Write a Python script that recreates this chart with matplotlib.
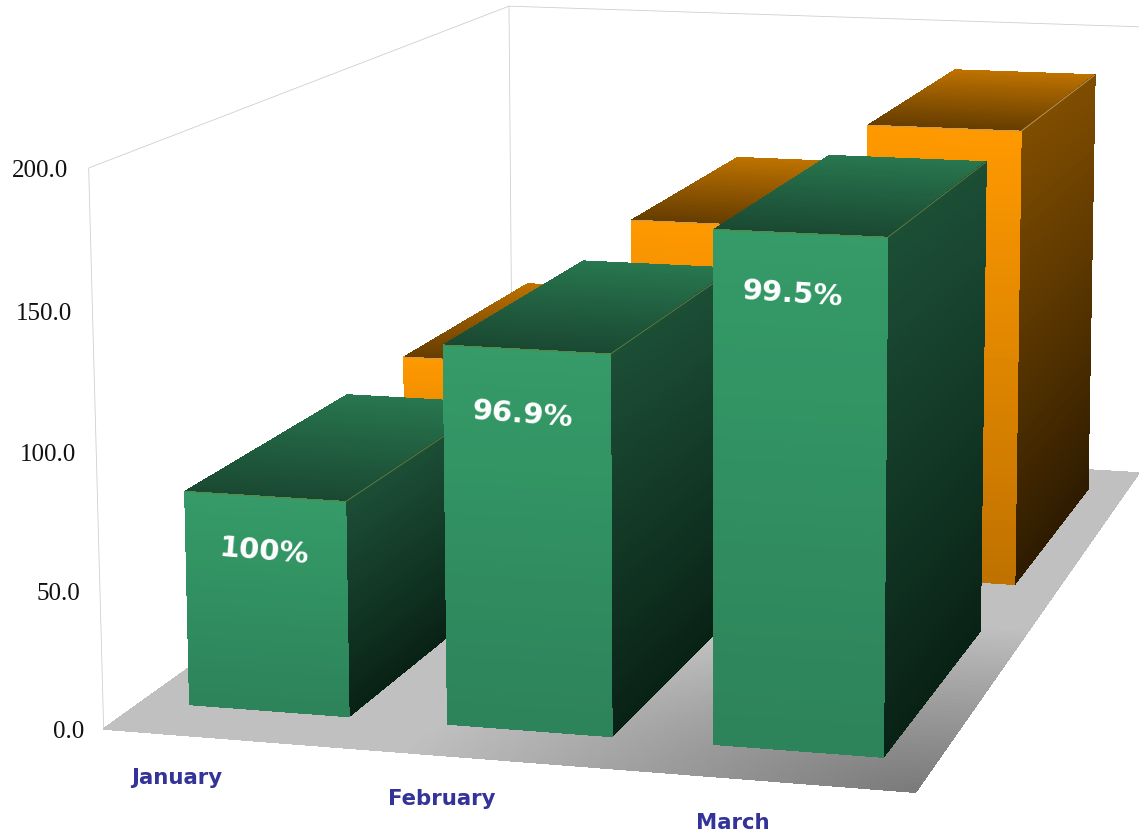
#!/usr/bin/env python3

import numpy as np
from matplotlib import pyplot as plt
from matplotlib.colors import to_rgb
from mpl_toolkits.mplot3d import proj3d
from mpl_toolkits.mplot3d.art3d import Poly3DCollection

months = ["January", "February", "March"]
green_values = [78.5, 136.7, 181.9]
orange_values = [79.2, 140.6, 183.0]
percent_labels = ["100%", "96.9%", "99.5%"]
value_ticks = [0, 50, 100, 150, 200]

W, H = 1139, 834
DEPTH_HALF = 0.35
BACK_SKEW = 0.011  # the back of the bars sits a little further right than the camera says

# (top, bottom) colours of the faces, top face is (back, front)
GREEN = dict(front=("#359B68", "#2D835A"), side=("#1C4E36", "#092216"),
             top=("#28774F", "#1A4932"), edge="#66803F", shift=-0.005, half=0.31)
ORANGE = dict(front=("#FF9900", "#BF7200"), side=("#804D00", "#2E1C00"),
              top=("#BF7300", "#663D00"), edge="#C49A62", shift=0.0, half=0.315)

# camera fitted to the walls and floor of the picture: x 0-1, y 0-1, z 0-1
cam = np.array([[768.44, 569.38, -17.2, 103.66],
                [25.65, -155.94, -565.1, 728.97],
                [-0.04734, 0.31309, -0.02457, 1.0]])
cam = cam @ np.diag([1 / 3, 1 / 2, 1 / 200, 1])  # to months, series, values
M = np.array([cam[0], H * cam[2] - cam[1], [0, 1, 0, 0], cam[2]])

fig = plt.figure(figsize=(W / 100, H / 100), dpi=100)
ax = fig.add_axes([0, 0, 1, 1], projection="3d", computed_zorder=False)
ax.get_proj = lambda: M
ax.apply_aspect = lambda position=None: None
ax.set_xticks([])
ax.set_yticks([])
ax.set_zticks([])
ax.set_axis_off()
ax.viewLim.intervalx = (0, W)
ax.viewLim.intervaly = (0, H)

order = [1]


def next_z():
    order[0] += 1
    return order[0]


def blend(a, b, t):
    a, b = np.array(to_rgb(a)), np.array(to_rgb(b))
    return tuple(a + (b - a) * t)


def add_polys(polys, colors):
    # no antialiasing here, or the seams between the bands show
    col = Poly3DCollection(polys, facecolors=colors, edgecolors=colors,
                           linewidths=0.5, antialiased=False, zorder=next_z())
    ax.add_collection3d(col, autolim=False)


def add_lines(segments, colors, lw=0.8, alpha=None):
    col = Poly3DCollection(segments, facecolors=colors, edgecolors=colors,
                           linewidths=lw, alpha=alpha, zorder=next_z())
    ax.add_collection3d(col, autolim=False)


def gradient_face(c00, c10, c01, c11, col0, col1, n=50):
    # bands going from the edge c00-c10 (col0) to the edge c01-c11 (col1)
    c00, c10, c01, c11 = map(np.array, (c00, c10, c01, c11))
    polys, colors, segs, seg_colors = [], [], [], []
    for i in range(n):
        t0, t1 = i / n, (i + 1) / n
        a0, a1 = c00 + (c01 - c00) * t0, c00 + (c01 - c00) * t1
        b0, b1 = c10 + (c11 - c10) * t0, c10 + (c11 - c10) * t1
        color = blend(col0, col1, (t0 + t1) / 2)
        polys.append([a0, b0, b1, a1])
        colors.append(color)
        segs += [[a0, a1], [b0, b1]]
        seg_colors += [color, color]
    segs += [[c00, c10], [c01, c11]]
    seg_colors += [to_rgb(col0), to_rgb(col1)]
    add_polys(polys, colors)
    add_lines(segs, seg_colors, lw=0.6)


def draw_bar(cat, series, value, style):
    mid = cat + 0.5 + style["shift"]
    x0, x1 = mid - style["half"], mid + style["half"]
    bx0, bx1 = x0 + BACK_SKEW, x1 + BACK_SKEW
    y0, y1 = series + 0.5 - DEPTH_HALF, series + 0.5 + DEPTH_HALF
    gradient_face((bx0, y1, value), (bx1, y1, value), (x0, y0, value), (x1, y0, value),
                  *style["top"])
    gradient_face((x1, y0, value), (bx1, y1, value), (x1, y0, 0), (bx1, y1, 0),
                  *style["side"])
    gradient_face((x0, y0, value), (x1, y0, value), (x0, y0, 0), (x1, y0, 0),
                  *style["front"])
    edges = [[(x0, y0, value), (x1, y0, value)],
             [(x1, y0, value), (bx1, y1, value)]]
    add_lines(edges, [style["edge"]] * 2, lw=0.6, alpha=0.6)


def label_at(x, y, z, s, along_x=False, **kwargs):
    # place a label through the same camera, flat or following the month axis
    px, py, _ = proj3d.proj_transform(x, y, z, M)
    rotation = 0
    if along_x:
        qx, qy, _ = proj3d.proj_transform(x + 0.1, y, z, M)
        rotation = np.degrees(np.arctan2(qy - py, qx - px)) - 1
    ax.text2D(px, py, s, rotation=rotation, ha="center", va="center",
              zorder=next_z(), **kwargs)


# floor, darker towards the front right corner
nx, ny = 150, 100
polys, colors, segs, seg_colors = [], [], [], []
for i in range(nx):
    for j in range(ny):
        xa, xb = 3 * i / nx, 3 * (i + 1) / nx
        ya, yb = 2 * j / ny, 2 * (j + 1) / ny
        polys.append([(xa, ya, 0), (xb, ya, 0), (xb, yb, 0), (xa, yb, 0)])
        d = np.hypot(1 - (xa + xb) / 6, (ya + yb) / 4 / 0.7)
        g = (122 + 70 * min(d * 1.6, 1)) / 255
        colors.append((g, g, g))
        if j == 0:
            segs.append([(xa, ya, 0), (xb, ya, 0)])
            seg_colors.append((g, g, g))
        if i == nx - 1:
            segs.append([(xb, ya, 0), (xb, yb, 0)])
            seg_colors.append((g, g, g))
        if j == ny - 1:
            segs.append([(xa, yb, 0), (xb, yb, 0)])
            seg_colors.append((g, g, g))
        if i == 0:
            segs.append([(xa, ya, 0), (xa, yb, 0)])
            seg_colors.append((g, g, g))
add_polys(polys, colors)
add_lines(segs, seg_colors, lw=0.6)

# wall lines
wall = [[(0, 0, 0), (0, 0, 200)],
        [(0, 2, 0), (0, 2, 200)],
        [(0, 0, 200), (0, 2, 200)],
        [(0, 2, 200), (3, 2, 200)]]
add_lines(wall, ["#CFCFCF"] * 4, lw=0.6)

for i, v in enumerate(orange_values):
    draw_bar(i, 1, v, ORANGE)
for i, v in enumerate(green_values):
    draw_bar(i, 0, v, GREEN)

front = 0.5 - DEPTH_HALF
label_drop = [20, 23, 21]
label_shift = [0.487, 0.477, 0.468]
for i, (v, s, drop, dx) in enumerate(zip(green_values, percent_labels, label_drop, label_shift)):
    label_at(i + dx, front, v - drop, s, along_x=True, color="white", fontsize=21,
             fontweight="bold")

for v in value_ticks:
    px, py, _ = proj3d.proj_transform(-0.077, 0, v - 1.5, M)
    ax.text2D(px, py, f"{v:.1f}", family="Liberation Serif", fontsize=18,
              color="#111111", ha="right", va="center", zorder=next_z())

label_nudge = [-0.025, -0.056, -0.025]
for i, (m, dx) in enumerate(zip(months, label_nudge)):
    label_at(i + 0.5 + dx, -0.195, 0, m, color="#333399", fontsize=15.3,
             fontweight="bold")

plt.savefig("out.png", dpi=100)
